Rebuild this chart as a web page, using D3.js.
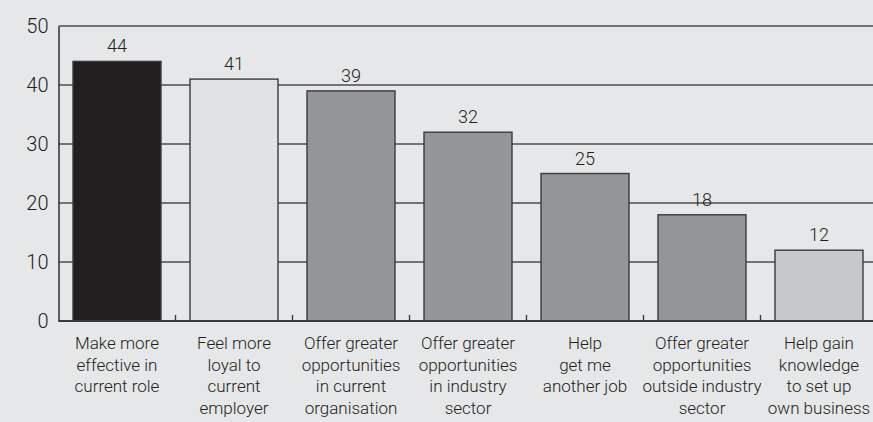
<!DOCTYPE html>
<html>
<head>
<meta charset="utf-8">
<script src="https://cdn.jsdelivr.net/npm/d3@7"></script>
<style>
  html, body { margin: 0; padding: 0; background: #e6e7e9; }
  svg { display: block; font-family: Roboto, "DejaVu Sans", sans-serif; font-weight: 300; }
</style>
</head>
<body>
<script>
// chart data
var categories = [
    ["Make more", "effective in", "current role"],
    ["Feel more", "loyal to", "current", "employer"],
    ["Offer greater", "opportunities", "in current", "organisation"],
    ["Offer greater", "opportunities", "in industry", "sector"],
    ["Help", "get me", "another job"],
    ["Offer greater", "opportunities", "outside industry", "sector"],
    ["Help gain", "knowledge", "to set up", "own business"]
];
var values = [44, 41, 39, 32, 25, 18, 12];
var barColors = ["#231f20", "#e1e2e4", "#939598", "#939598", "#939598", "#939598", "#c7c8ca"];
var yTicks = [0, 10, 20, 30, 40, 50];

var width = 873, height = 422;
var margin = { top: 26, right: 0, bottom: 101, left: 58.5 };

var svg = d3.select("body").append("svg")
    .attr("width", width)
    .attr("height", height);

var x = d3.scaleBand()
    .domain(d3.range(values.length))
    .range([margin.left, margin.left + 117 * values.length])
    .paddingInner(0.248)
    .paddingOuter(0.124);

var y = d3.scaleLinear()
    .domain([0, 50])
    .range([height - margin.bottom, margin.top]);

// gridlines
svg.append("g")
    .selectAll("line")
    .data(yTicks.filter(function (d) { return d > 0; }))
    .enter()
    .append("line")
    .attr("x1", margin.left)
    .attr("x2", width)
    .attr("y1", function (d) { return y(d); })
    .attr("y2", function (d) { return y(d); })
    .attr("stroke", "#4d4d4f")
    .attr("stroke-width", 1.4);

// y axis labels + vertical line
var yAxis = d3.axisLeft(y).tickValues(yTicks).tickSize(0).tickPadding(10);
var gy = svg.append("g")
    .attr("transform", "translate(" + margin.left + ",0)")
    .call(yAxis);
gy.select(".domain").attr("stroke", "#3a3a3b").attr("stroke-width", 1.6);
gy.selectAll("text")
    .attr("font-size", 20)
    .attr("fill", "#231f20")
    .attr("font-family", "Roboto, sans-serif")
    .attr("font-weight", 300);

// bars
svg.selectAll(".bar")
    .data(values)
    .enter()
    .append("rect")
    .attr("class", "bar")
    .attr("x", function (d, i) { return x(i); })
    .attr("width", x.bandwidth())
    .attr("y", function (d) { return y(d); })
    .attr("height", function (d) { return y(0) - y(d); })
    .attr("fill", function (d, i) { return barColors[i]; })
    .attr("stroke", "#3a3a3b")
    .attr("stroke-width", 1.4);

// value labels
svg.selectAll(".val")
    .data(values)
    .enter()
    .append("text")
    .attr("class", "val")
    .attr("x", function (d, i) { return x(i) + x.bandwidth() / 2; })
    .attr("y", function (d) { return y(d) - 9; })
    .attr("text-anchor", "middle")
    .attr("font-size", 18)
    .attr("fill", "#231f20")
    .text(function (d) { return d; });

// baseline
svg.append("line")
    .attr("x1", margin.left)
    .attr("x2", width)
    .attr("y1", y(0))
    .attr("y2", y(0))
    .attr("stroke", "#3a3a3b")
    .attr("stroke-width", 2.2);

// small ticks between categories
var step = x.step();
svg.selectAll(".tick-sep")
    .data(d3.range(1, values.length))
    .enter()
    .append("line")
    .attr("x1", function (i) { return x(i) - x.paddingInner() * step / 2; })
    .attr("x2", function (i) { return x(i) - x.paddingInner() * step / 2; })
    .attr("y1", y(0))
    .attr("y2", y(0) - 6)
    .attr("stroke", "#3a3a3b")
    .attr("stroke-width", 1.4);

// category labels
var cat = svg.selectAll(".cat")
    .data(categories)
    .enter()
    .append("text")
    .attr("class", "cat")
    .attr("text-anchor", "middle")
    .attr("font-size", 17)
    .attr("fill", "#231f20");

cat.selectAll("tspan")
    .data(function (d, i) { return d.map(function (t) { return { t: t, i: i }; }); })
    .enter()
    .append("tspan")
    .attr("x", function (d) { return x(d.i) + x.bandwidth() / 2; })
    .attr("y", function (d, j) { return y(0) + 28 + j * 21.7; })
    .text(function (d) { return d.t; });
</script>
</body>
</html>
